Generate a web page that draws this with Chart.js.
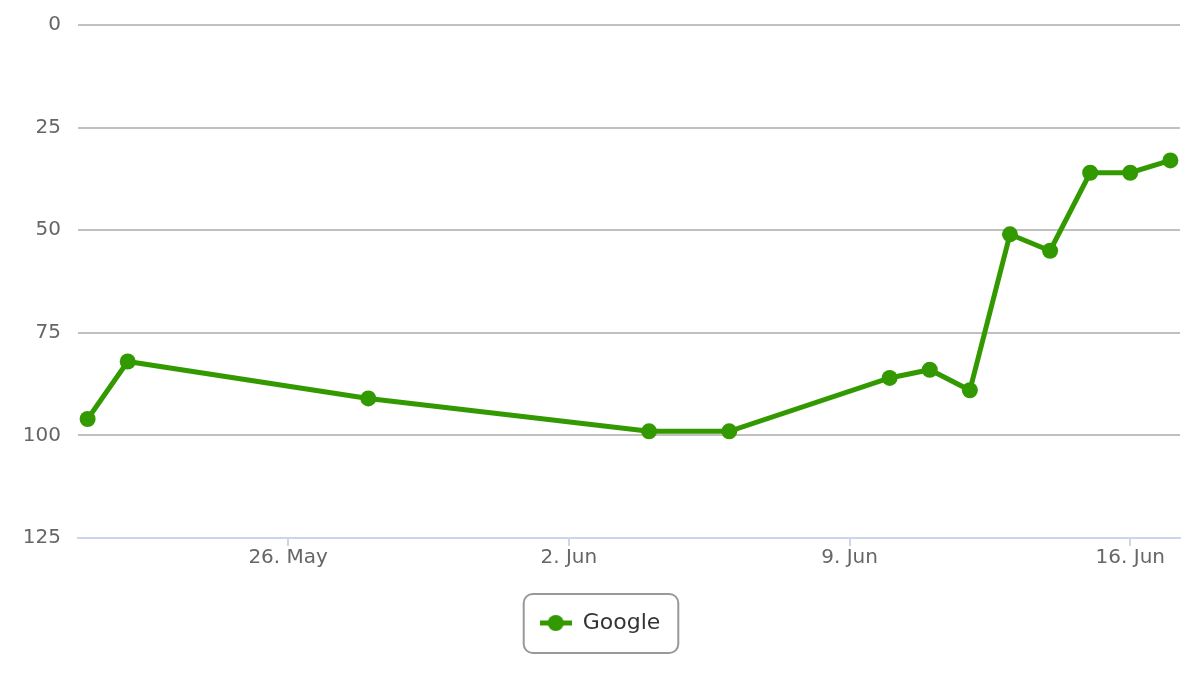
<!DOCTYPE html>
<html>
<head>
<meta charset="utf-8">
<title>Google</title>
<script src="https://cdn.jsdelivr.net/npm/chart.js@4.4.1/dist/chart.umd.min.js"></script>
<style>
    html, body { margin: 0; padding: 0; background: #fff; }
    #wrap { width: 1200px; height: 685px; position: relative; }
</style>
</head>
<body>
<div id="wrap"><canvas id="rankChart"></canvas></div>
<script>
// Data
const pointDates = [
    '2019-05-21', '2019-05-22', '2019-05-28', '2019-06-04', '2019-06-06',
    '2019-06-10', '2019-06-11', '2019-06-12', '2019-06-13', '2019-06-14',
    '2019-06-15', '2019-06-16', '2019-06-17'
];
const googleRank = [96, 82, 91, 99, 99, 86, 84, 89, 51, 55, 36, 36, 33];

const tickDates = ['2019-05-26', '2019-06-02', '2019-06-09', '2019-06-16'];
const tickLabels = ['26. May', '2. Jun', '9. Jun', '16. Jun'];

const yTicks = [0, 25, 50, 75, 100, 125];

const green = '#339900';
const fontFamily = "'DejaVu Sans', sans-serif";

// day offsets from the first tick
const DAY = 24 * 3600 * 1000;
const baseTime = Date.parse(tickDates[0]);
const toDay = d => (Date.parse(d) - baseTime) / DAY;

const points = pointDates.map((d, i) => ({ x: toDay(d), y: googleRank[i] }));
const tickDays = tickDates.map(toDay);

// legend symbol: short line with a dot
function makeLegendSymbol() {
    const c = document.createElement('canvas');
    c.width = 32;
    c.height = 18;
    const ctx = c.getContext('2d');
    ctx.strokeStyle = green;
    ctx.lineWidth = 5;
    ctx.beginPath();
    ctx.moveTo(0, 9);
    ctx.lineTo(32, 9);
    ctx.stroke();
    ctx.fillStyle = green;
    ctx.beginPath();
    ctx.arc(16, 9, 8, 0, Math.PI * 2);
    ctx.fill();
    return c;
}

// rounded border around the legend item
const legendBorder = {
    id: 'legendBorder',
    afterDraw(chart) {
        const boxes = chart.legend && chart.legend.legendHitBoxes;
        if (!boxes || !boxes.length) return;
        const b = boxes[0];
        const ctx = chart.ctx;
        const x = b.left - 16;
        const y = b.top + b.height / 2 - 29;
        const w = b.width + 34;
        const h = 59;
        ctx.save();
        ctx.strokeStyle = '#999999';
        ctx.lineWidth = 2;
        ctx.beginPath();
        ctx.roundRect(x, y, w, h, 9);
        ctx.stroke();
        ctx.restore();
    }
};

const chart = new Chart(document.getElementById('rankChart'), {
    type: 'line',
    data: {
        datasets: [{
            label: 'Google',
            data: points,
            borderColor: green,
            backgroundColor: green,
            borderWidth: 5,
            pointStyle: 'circle',
            pointRadius: 8,
            pointHoverRadius: 8,
            pointBackgroundColor: green,
            pointBorderWidth: 0,
            tension: 0
        }]
    },
    options: {
        responsive: true,
        maintainAspectRatio: false,
        animation: false,
        layout: {
            padding: { top: 25, right: 20, bottom: 41, left: 20 }
        },
        scales: {
            x: {
                type: 'linear',
                min: -5.24,
                max: 22.24,
                afterBuildTicks: scale => {
                    scale.ticks = tickDays.map(v => ({ value: v }));
                },
                afterFit: scale => {
                    scale.height = 64;
                    scale.paddingLeft = 0;
                    scale.paddingRight = 0;
                },
                grid: {
                    drawOnChartArea: false,
                    drawTicks: true,
                    tickLength: 8,
                    color: '#ccd6eb',
                    lineWidth: 2
                },
                border: { display: true, color: '#ccd6eb', width: 2 },
                ticks: {
                    autoSkip: false,
                    maxRotation: 0,
                    padding: 0,
                    color: '#666666',
                    font: { family: fontFamily, size: 20 },
                    callback: (value, index) => tickLabels[index]
                }
            },
            y: {
                reverse: true,
                min: 0,
                max: 125,
                afterBuildTicks: scale => {
                    scale.ticks = yTicks.map(v => ({ value: v }));
                },
                afterFit: scale => {
                    scale.width = 58;
                    scale.paddingTop = 0;
                    scale.paddingBottom = 0;
                },
                grid: {
                    drawTicks: false,
                    color: '#c0c0c0',
                    lineWidth: 2
                },
                border: { display: false },
                ticks: {
                    padding: 17,
                    color: '#666666',
                    font: { family: fontFamily, size: 20 }
                }
            }
        },
        plugins: {
            legend: {
                position: 'bottom',
                labels: {
                    usePointStyle: true,
                    pointStyleWidth: 32,
                    color: '#333333',
                    padding: 10,
                    font: { family: fontFamily, size: 22 },
                    generateLabels: chart => chart.data.datasets.map((ds, i) => ({
                        text: ds.label,
                        fillStyle: ds.borderColor,
                        strokeStyle: ds.borderColor,
                        lineWidth: 0,
                        pointStyle: makeLegendSymbol(),
                        fontColor: '#333333',
                        datasetIndex: i
                    }))
                }
            },
            tooltip: { enabled: false }
        }
    },
    plugins: [legendBorder]
});
</script>
</body>
</html>
